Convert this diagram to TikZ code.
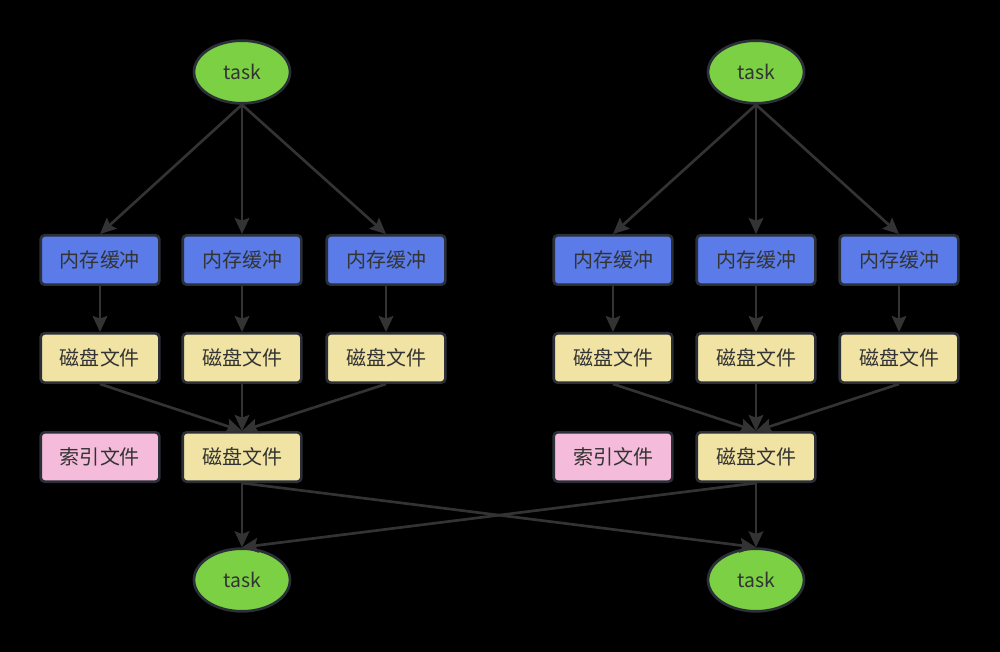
\documentclass[tikz,border=0pt]{standalone}
\usepackage{fontspec}
\setmainfont{Noto Sans CJK SC}
\usetikzlibrary{arrows.meta, shapes.geometric}

\definecolor{bufblue}{HTML}{5A7BE8}
\definecolor{diskyellow}{HTML}{F0E3A3}
\definecolor{idxpink}{HTML}{F5BBDA}
\definecolor{taskgreen}{HTML}{7BD044}
\definecolor{edgegray}{HTML}{2B3038}
\definecolor{linegray}{HTML}{333333}

\begin{document}
\begin{tikzpicture}[x=0.75pt, y=-0.75pt, >={Stealth[length=12pt, width=11pt, inset=2pt]},
  task/.style={ellipse, draw=edgegray, line width=2pt, fill=taskgreen, text=linegray,
    minimum width=72pt, minimum height=47pt, inner sep=0pt, font=\fontsize{14.5pt}{16pt}\selectfont},
  box/.style={rectangle, rounded corners=3pt, draw=edgegray, line width=2pt, text=linegray,
    minimum width=89pt, minimum height=37pt, inner sep=0pt, font=\fontsize{15pt}{17pt}\selectfont},
  buffer/.style={box, fill=bufblue},
  disk/.style={box, fill=diskyellow},
  index/.style={box, fill=idxpink},
  flow/.style={->, draw=linegray, line width=2pt}]
  \fill[black] (0,0) rectangle (1000,652);

  % left job
  \node[task] (ta) at (242,72) {task};
  \node[buffer] (ma) at (100,260) {内存缓冲};
  \node[buffer] (mb) at (242,260) {内存缓冲};
  \node[buffer] (mc) at (386,260) {内存缓冲};
  \node[disk] (da) at (100,358) {磁盘文件};
  \node[disk] (db) at (242,358) {磁盘文件};
  \node[disk] (dc) at (386,358) {磁盘文件};
  \node[index] (ia) at (100,457) {索引文件};
  \node[disk] (fa) at (242,457) {磁盘文件};

  % right job
  \node[task] (tb) at (756,72) {task};
  \node[buffer] (md) at (613,260) {内存缓冲};
  \node[buffer] (me) at (756,260) {内存缓冲};
  \node[buffer] (mf) at (899,260) {内存缓冲};
  \node[disk] (dd) at (613,358) {磁盘文件};
  \node[disk] (de) at (756,358) {磁盘文件};
  \node[disk] (df) at (899,358) {磁盘文件};
  \node[index] (ib) at (613,457) {索引文件};
  \node[disk] (fb) at (756,457) {磁盘文件};

  % reduce side
  \node[task] (tc) at (242,580) {task};
  \node[task] (td) at (756,580) {task};

  \draw[flow] (ta.south) -- (ma.north);
  \draw[flow] (ta.south) -- (mb.north);
  \draw[flow] (ta.south) -- (mc.north);
  \draw[flow] (ma) -- (da);
  \draw[flow] (mb) -- (db);
  \draw[flow] (mc) -- (dc);
  \draw[flow] (da.south) -- (fa.north);
  \draw[flow] (db.south) -- (fa.north);
  \draw[flow] (dc.south) -- (fa.north);

  \draw[flow] (tb.south) -- (md.north);
  \draw[flow] (tb.south) -- (me.north);
  \draw[flow] (tb.south) -- (mf.north);
  \draw[flow] (md) -- (dd);
  \draw[flow] (me) -- (de);
  \draw[flow] (mf) -- (df);
  \draw[flow] (dd.south) -- (fb.north);
  \draw[flow] (de.south) -- (fb.north);
  \draw[flow] (df.south) -- (fb.north);

  \draw[flow] (fa.south) -- (tc.north);
  \draw[flow] (fa.south) -- (td.north);
  \draw[flow] (fb.south) -- (tc.north);
  \draw[flow] (fb.south) -- (td.north);
\end{tikzpicture}
\end{document}
